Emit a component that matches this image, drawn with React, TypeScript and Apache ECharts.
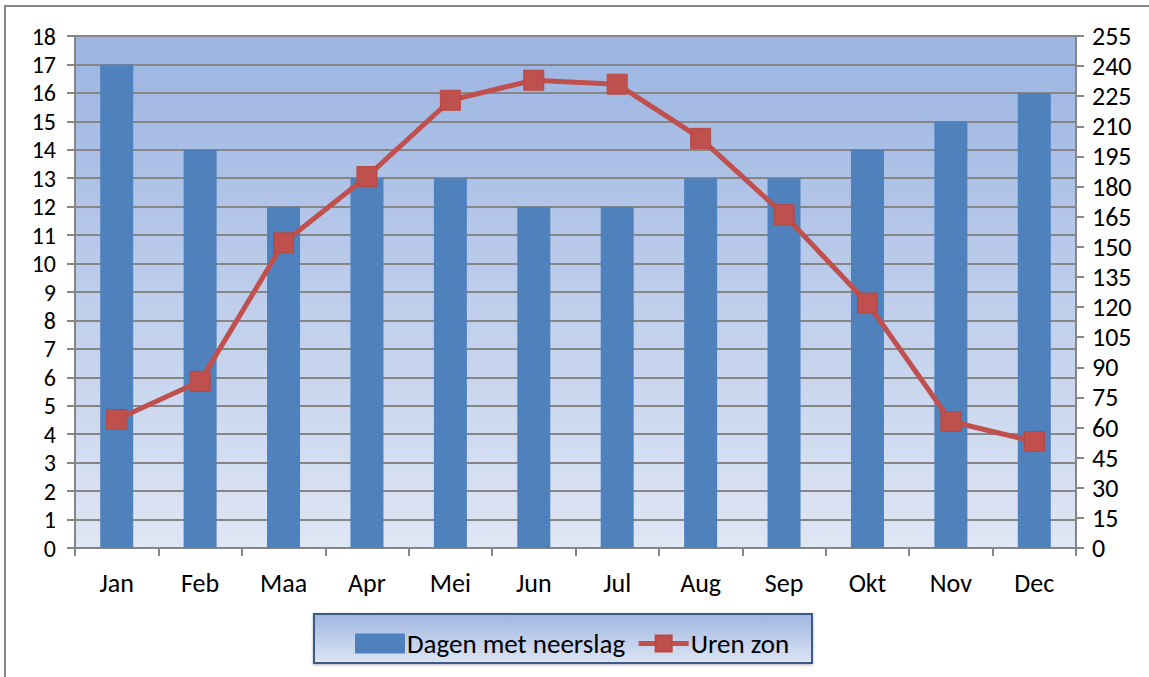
import React, { useEffect, useRef } from "react";
import * as echarts from "echarts";

const months = ["Jan", "Feb", "Maa", "Apr", "Mei", "Jun", "Jul", "Aug", "Sep", "Okt", "Nov", "Dec"];
const rainDays = [17, 14, 12, 13, 13, 12, 12, 13, 13, 14, 15, 16];
const sunHours = [64, 83, 152, 185, 223, 233, 231, 204, 166, 122, 63, 53];
const seriesNames = ["Dagen met neerslag", "Uren zon"];

const FONT = "Carlito, Calibri, Lato, 'Noto Sans', sans-serif";
const FS = 26;

export default function App() {
  const ref = useRef<HTMLDivElement>(null);
  useEffect(() => {
    if (!ref.current) return;
    const chart = echarts.init(ref.current, undefined, { renderer: "svg" });
    const gray = "#868686";
    chart.setOption({
      animation: false,
      backgroundColor: "#ffffff",
      textStyle: { fontFamily: FONT },
      graphic: [
        {
          type: "rect",
          z: -10,
          shape: { x: 5, y: 6, width: 1160, height: 690 },
          style: { fill: "#ffffff", stroke: gray, lineWidth: 2 },
          silent: true,
        },
        {
          type: "rect",
          z: 0,
          shape: { x: 314, y: 614, width: 498, height: 49 },
          style: {
            fill: new echarts.graphic.LinearGradient(0, 0, 0, 1, [
              { offset: 0, color: "#9FB6E0" },
              { offset: 1, color: "#DDE5F4" },
            ]),
            stroke: "#3A5A85",
            lineWidth: 2,
            shadowBlur: 3,
            shadowColor: "rgba(0,0,0,0.3)",
            shadowOffsetY: 1,
          },
          silent: true,
        },
      ],
      grid: {
        left: 75,
        right: 73,
        top: 36,
        bottom: 129,
        show: true,
        borderWidth: 0,
        backgroundColor: new echarts.graphic.LinearGradient(0, 0, 0, 1, [
          { offset: 0, color: "#9BB4E2" },
          { offset: 1, color: "#DFE6F4" },
        ]),
      },
      legend: {
        left: 350,
        top: 625,
        itemWidth: 50,
        itemHeight: 20,
        itemGap: 11,
        z: 5,
        textStyle: { fontSize: 27, color: "#000", fontFamily: FONT, padding: [0, 0, 0, -3] },
        data: [
          { name: seriesNames[0], icon: "rect", itemStyle: { color: "#4F81BD" } },
          { name: seriesNames[1], lineStyle: { width: 5, color: "#C0504D" } },
        ],
      },
      xAxis: {
        type: "category",
        data: months,
        boundaryGap: true,
        axisLine: { lineStyle: { color: gray, width: 2 } },
        axisTick: { show: true, length: 8, lineStyle: { color: gray, width: 2 } },
        axisLabel: { fontSize: FS, color: "#000", margin: 22, fontFamily: FONT },
      },
      yAxis: [
        {
          type: "value",
          min: 0,
          max: 18,
          interval: 1,
          position: "left",
          axisLine: { show: true, lineStyle: { color: gray, width: 2 } },
          axisTick: { show: true, length: 8, lineStyle: { color: gray, width: 2 } },
          axisLabel: { fontSize: 24, lineHeight: 24, color: "#000", margin: 19, fontFamily: FONT },
          splitLine: { show: true, lineStyle: { color: "#868686", width: 2 } },
        },
        {
          type: "value",
          min: 0,
          max: 255,
          interval: 15,
          position: "right",
          axisLine: { show: true, lineStyle: { color: gray, width: 2 } },
          axisTick: { show: true, length: 8, lineStyle: { color: gray, width: 2 } },
          axisLabel: { fontSize: FS, lineHeight: 26, color: "#000", margin: 16, fontFamily: FONT },
          splitLine: { show: false },
        },
      ],
      series: [
        {
          name: seriesNames[0],
          type: "bar",
          data: rainDays,
          barWidth: 33,
          yAxisIndex: 0,
          itemStyle: { color: "#4F81BD" },
        },
        {
          name: seriesNames[1],
          type: "line",
          data: sunHours,
          yAxisIndex: 1,
          symbol: "rect",
          symbolSize: 20,
          lineStyle: { color: "#C0504D", width: 5 },
          itemStyle: { color: "#C0504D", borderColor: "#B8473F", borderWidth: 1 },
        },
      ],
    });
    return () => chart.dispose();
  }, []);
  return (
    <div
      ref={ref}
      style={{ position: "fixed", left: 0, top: 0, width: 1149, height: 677 }}
    />
  );
}
